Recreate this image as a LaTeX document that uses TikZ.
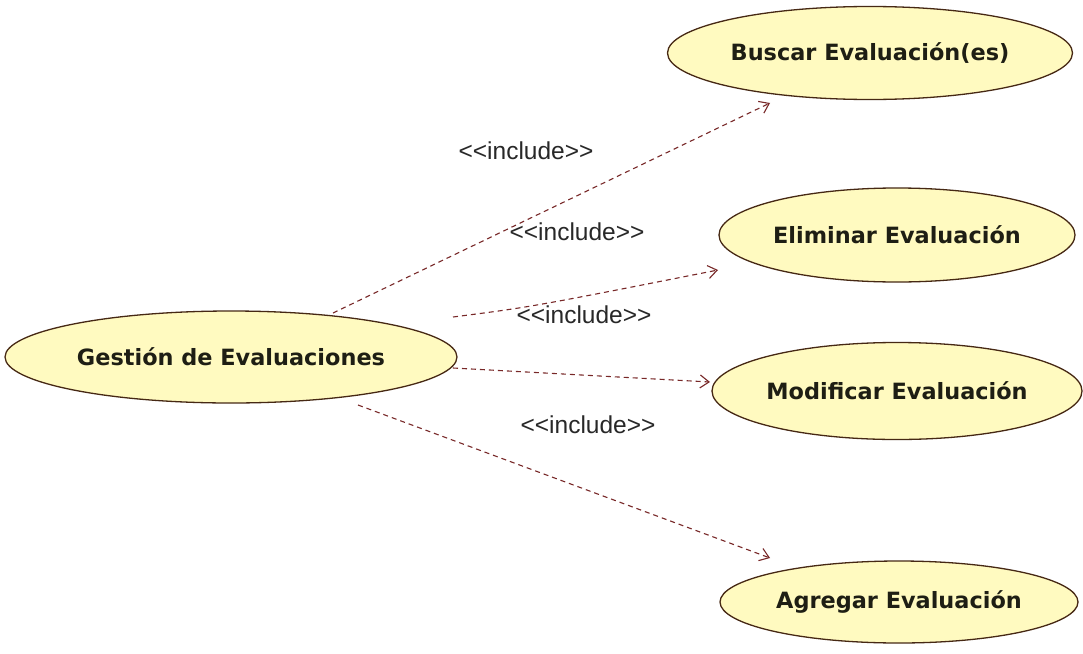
\documentclass[tikz,border=0pt]{standalone}
\usepackage{fontspec}
\newfontfamily\lblfont{Liberation Sans}
\newfontfamily\ucfont{DejaVu Sans}
\usetikzlibrary{shapes.geometric,arrows.meta,calc}
\definecolor{ucfill}{RGB}{255,250,192}
\definecolor{ucline}{RGB}{70,40,20}
\definecolor{inclcol}{RGB}{120,40,40}
\definecolor{txtcol}{RGB}{30,30,20}
\definecolor{lblcol}{RGB}{40,40,40}
\tikzset{
  usecase/.style={ellipse, draw=ucline, fill=ucfill, line width=1.3pt, inner sep=0pt,
    font=\ucfont\bfseries\fontsize{22.4}{26}\selectfont, text=txtcol},
  incl/.style={draw=inclcol, line width=1.1pt, dash pattern=on 5pt off 4pt,
    -{Straight Barb[length=9pt,width=13pt,line width=1.1pt]}},
  incllbl/.style={font=\lblfont\fontsize{24.5}{28}\selectfont, text=lblcol, inner sep=0pt}
}
\begin{document}
\begin{tikzpicture}[x=1pt,y=-1pt]
\useasboundingbox[fill=white] (0,0) rectangle (1083,653);
\node[usecase, minimum width=452pt, minimum height=92pt] (g) at (231,357) {Gestión de Evaluaciones};
\node[usecase, minimum width=405pt, minimum height=93pt] (b) at (870,53) {Buscar Evaluación(es)};
\node[usecase, minimum width=356pt, minimum height=94pt] (e) at (897,235) {Eliminar Evaluación};
\node[usecase, minimum width=370pt, minimum height=97pt] (m) at (897,391) {Modificar Evaluación};
\node[usecase, minimum width=358pt, minimum height=82pt] (a) at (899,602) {Agregar Evaluación};

\draw[incl] ($(g.center)+(102,-44)$) -- ($(b.center)+(-100,50)$);
\draw[incl] ($(g.center)+(222,-40)$) .. controls ($(g.center)+(300,-50)$) .. ($(e.center)+(-179,35)$);
\draw[incl] ($(g.center)+(222,11)$) -- ($(m.center)+(-187,-9)$);
\draw[incl] ($(g.center)+(127,48)$) -- ($(a.center)+(-129,-44)$);

\node[incllbl] (l1) at (526,151) {<<include>>};
\node[incllbl] (l2) at (577,232) {<<include>>};
\node[incllbl] (l3) at (584,315) {<<include>>};
\node[incllbl] (l4) at (588,425) {<<include>>};
\end{tikzpicture}
\end{document}
